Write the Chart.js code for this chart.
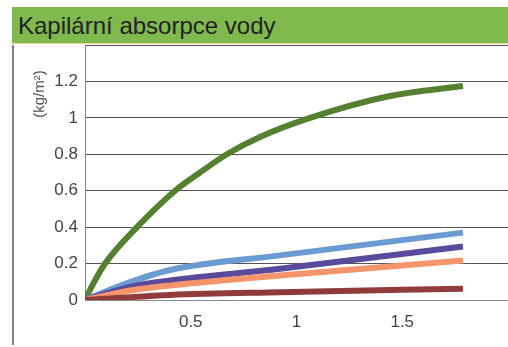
<!DOCTYPE html>
<html>
<head>
<meta charset="utf-8">
<script src="https://cdn.jsdelivr.net/npm/chart.js@4.4.0/dist/chart.umd.min.js"></script>
<style>
  html, body { margin: 0; padding: 0; background: #fff; }
  canvas { position: absolute; left: 0; top: 0; }
  #header {
    position: absolute; left: 12px; top: 7px; width: 496px; height: 37px;
    background: #80b94e; border-bottom: 1px solid #e3d98a;
    font-family: "Liberation Sans", Arial, sans-serif; font-size: 24px; color: #222;
    line-height: 37px; padding-left: 6px; box-sizing: border-box;
  }
  #leftLine { position: absolute; left: 12px; top: 45px; width: 2px; height: 300px; background: #808080; }
</style>
</head>
<body>
<canvas id="chart" width="508" height="347"></canvas>
<div id="header">Kapilární absorpce vody</div>
<div id="leftLine"></div>
<script>
// data (x: čas, y: kg/m²)
const greenX = [0, 0.039, 0.095, 0.246, 0.426, 0.544, 0.671, 0.827, 1.064, 1.442, 1.787];
const greenY = [0, 0.09, 0.2, 0.4, 0.6, 0.7, 0.8, 0.895, 1.0, 1.12, 1.175];
const blueX = [0, 0.213, 0.402, 0.922, 1.787];
const blueY = [0, 0.098, 0.165, 0.245, 0.37];
const purpleX = [0, 0.213, 0.402, 0.922, 1.787];
const purpleY = [0, 0.072, 0.107, 0.171, 0.294];
const orangeX = [0, 0.213, 0.402, 0.922, 1.787];
const orangeY = [0, 0.052, 0.08, 0.135, 0.217];
const brownX = [0, 0.402, 0.922, 1.787];
const brownY = [0, 0.028, 0.043, 0.062];
const yTicks = [0, 0.2, 0.4, 0.6, 0.8, 1, 1.2];
const xTicks = [0.5, 1, 1.5];

const pts = (xs, ys) => xs.map((x, i) => ({ x: x, y: ys[i] }));
const tickFont = { family: "'Liberation Sans', Arial, sans-serif", size: 17 };

function series(xs, ys, color) {
  return {
    data: pts(xs, ys),
    borderColor: color,
    borderWidth: 6,
    pointRadius: 0,
    pointHoverRadius: 0,
    fill: false,
    cubicInterpolationMode: "monotone",
    borderCapStyle: "butt",
  };
}

// y axis title drawn near the top, like the original
const yTitle = {
  id: "yTitle",
  afterDraw(chart) {
    const ctx = chart.ctx;
    ctx.save();
    ctx.translate(40, 94);
    ctx.rotate(-Math.PI / 2);
    ctx.font = "15px 'Liberation Sans', Arial, sans-serif";
    ctx.fillStyle = "#555";
    ctx.textAlign = "center";
    ctx.textBaseline = "middle";
    ctx.fillText("(kg/m²)", 0, 0);
    ctx.restore();
  },
};

new Chart(document.getElementById("chart"), {
  type: "line",
  data: {
    datasets: [
      series(brownX, brownY, "#913c3a"),
      series(orangeX, orangeY, "#f5956b"),
      series(purpleX, purpleY, "#5b4a9c"),
      series(blueX, blueY, "#6c9bd2"),
      series(greenX, greenY, "#558030"),
    ],
  },
  options: {
    responsive: false,
    animation: false,
    layout: { autoPadding: false, padding: { top: 45, left: 0, right: 0, bottom: 0 } },
    plugins: { legend: { display: false }, tooltip: { enabled: false } },
    scales: {
      x: {
        type: "linear",
        min: 0,
        max: 2,
        afterFit: (s) => { s.height = 47; },
        afterBuildTicks: (s) => { s.ticks = [0, ...xTicks].map((v) => ({ value: v })); },
        ticks: {
          padding: 12,
          color: "#444",
          font: tickFont,
          callback: (v) => (xTicks.includes(v) ? String(v) : ""),
        },
        grid: { display: false, drawTicks: false },
        border: { color: "#888", width: 1 },
      },
      y: {
        min: 0,
        max: 1.4,
        afterFit: (s) => { s.width = 85; },
        afterBuildTicks: (s) => { s.ticks = [...yTicks, 1.4].map((v) => ({ value: v })); },
        ticks: {
          padding: 7,
          color: "#444",
          font: tickFont,
          callback: (v) => (yTicks.includes(v) ? String(v) : ""),
        },
        grid: { color: "#555", drawTicks: false },
        border: { color: "#888", width: 1 },
      },
    },
  },
  plugins: [yTitle],
});
</script>
</body>
</html>
